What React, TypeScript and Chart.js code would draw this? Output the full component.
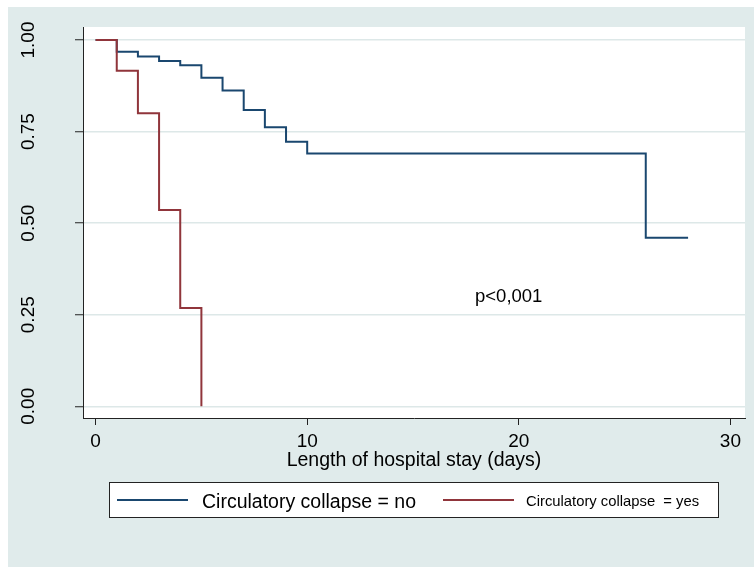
import React, { useEffect, useRef } from 'react';
import { Chart, registerables } from 'chart.js';

Chart.register(...registerables);

// ---- data ----
const xTicks = [0, 10, 20, 30];
const yTicks = [0, 0.25, 0.5, 0.75, 1];
const noTimes = [0, 1, 2, 3, 4, 5, 6, 7, 8, 9, 10, 26, 28];
const noSurv = [1, 0.968, 0.955, 0.943, 0.931, 0.897, 0.862, 0.809, 0.762, 0.722, 0.69, 0.46, 0.46];
const yesTimes = [0, 1, 2, 3, 4, 5];
const yesSurv = [1, 0.916, 0.8, 0.536, 0.268, 0];
const seriesLabels = ['Circulatory collapse = no', 'Circulatory collapse  = yes'];
const xTitle = 'Length of hospital stay (days)';
const pText = 'p<0,001';
const pX = 17.93;
const pY = 0.285;

// ---- style ----
const BG = '#e0ebeb';
const NAVY = '#1a476f';
const MAROON = '#90353b';
const FONT = '"Liberation Sans", Arial, Helvetica, sans-serif';

const decorPlugin = {
  id: 'decor',
  beforeDraw(chart: any) {
    const { ctx, chartArea: a, width, height } = chart;
    ctx.save();
    ctx.fillStyle = BG;
    ctx.fillRect(0, 0, width, height);
    ctx.fillStyle = '#ffffff';
    ctx.fillRect(a.left, a.top, a.right - a.left, a.bottom - a.top);
    ctx.restore();
  },
  afterDraw(chart: any) {
    const { ctx } = chart;
    const xs = chart.scales.x;
    const ys = chart.scales.y;
    ctx.save();
    ctx.fillStyle = '#000';
    // rotated y tick labels
    ctx.font = `19px ${FONT}`;
    ctx.textAlign = 'center';
    ctx.textBaseline = 'alphabetic';
    yTicks.forEach((v) => {
      const py = ys.getPixelForValue(v);
      ctx.save();
      ctx.translate(25.5, py);
      ctx.rotate(-Math.PI / 2);
      ctx.fillText(v.toFixed(2), 0, 0);
      ctx.restore();
    });
    // p-value annotation
    ctx.font = `18.5px ${FONT}`;
    ctx.textAlign = 'left';
    ctx.fillText(pText, xs.getPixelForValue(pX), ys.getPixelForValue(pY));
    // legend box
    const bx = 101, by = 475, bw = 609, bh = 35;
    ctx.fillStyle = '#fff';
    ctx.fillRect(bx, by, bw, bh);
    ctx.strokeStyle = '#222';
    ctx.lineWidth = 1;
    ctx.strokeRect(bx + 0.5, by + 0.5, bw, bh);
    // legend items
    const ly = 493;
    ctx.lineWidth = 2;
    ctx.strokeStyle = NAVY;
    ctx.beginPath(); ctx.moveTo(109, ly); ctx.lineTo(180, ly); ctx.stroke();
    ctx.strokeStyle = MAROON;
    ctx.beginPath(); ctx.moveTo(435, ly); ctx.lineTo(506, ly); ctx.stroke();
    ctx.fillStyle = '#000';
    ctx.font = `19.5px ${FONT}`;
    ctx.fillText(seriesLabels[0], 194, 500.5);
    ctx.font = `14.8px ${FONT}`;
    ctx.fillText(seriesLabels[1], 518, 499);
    ctx.restore();
  },
};

export default function App() {
  const ref = useRef<HTMLCanvasElement>(null);
  useEffect(() => {
    document.body.style.margin = '0';
    const chart = new Chart(ref.current as HTMLCanvasElement, {
      type: 'line',
      data: {
        datasets: [
          {
            label: seriesLabels[0],
            data: noTimes.map((t, i) => ({ x: t, y: noSurv[i] })),
            borderColor: NAVY,
            borderWidth: 2,
            pointRadius: 0,
            stepped: 'before',
            fill: false,
            order: 1,
          },
          {
            label: seriesLabels[1],
            data: yesTimes.map((t, i) => ({ x: t, y: yesSurv[i] })),
            borderColor: MAROON,
            borderWidth: 2,
            pointRadius: 0,
            stepped: 'before',
            fill: false,
            order: 0,
          },
        ],
      },
      options: {
        animation: false,
        responsive: false,
        devicePixelRatio: 1,
        layout: { padding: { top: 20, right: 9, left: 0, bottom: 0 } },
        plugins: {
          legend: { display: false },
          tooltip: { enabled: false },
          title: { display: false },
        },
        scales: {
          x: {
            type: 'linear',
            min: -0.595,
            max: 30.69,
            afterBuildTicks: (s: any) => {
              s.ticks = xTicks.map((v) => ({ value: v }));
            },
            afterFit: (s: any) => {
              s.height = 149;
            },
            grid: {
              drawOnChartArea: false,
              drawTicks: true,
              tickLength: 7,
              tickColor: '#222',
              tickWidth: 1,
            },
            border: { display: true, color: '#222', width: 1 },
            ticks: {
              color: '#000',
              font: { family: FONT, size: 19 },
              padding: 5,
              maxRotation: 0,
              minRotation: 0,
              callback: (v: any) => String(v),
            },
            title: {
              display: true,
              text: xTitle,
              color: '#000',
              font: { family: FONT, size: 19.5 },
              padding: { top: 0, bottom: 95 },
            },
          },
          y: {
            type: 'linear',
            min: -0.032,
            max: 1.0355,
            afterBuildTicks: (s: any) => {
              s.ticks = yTicks.map((v) => ({ value: v }));
            },
            afterFit: (s: any) => {
              s.width = 75;
            },
            grid: {
              drawOnChartArea: true,
              color: '#dde8e8',
              lineWidth: 1.5,
              drawTicks: true,
              tickLength: 8,
              tickColor: '#222',
              tickWidth: 1,
            },
            border: { display: true, color: '#222', width: 1 },
            ticks: { display: false },
          },
        },
      },
      plugins: [decorPlugin],
    } as any);
    return () => chart.destroy();
  }, []);
  return (
    <div style={{ padding: '7px 0 0 8px', width: 746, height: 560 }}>
      <canvas ref={ref} width={746} height={560} style={{ display: 'block', width: 746, height: 560 }} />
    </div>
  );
}
